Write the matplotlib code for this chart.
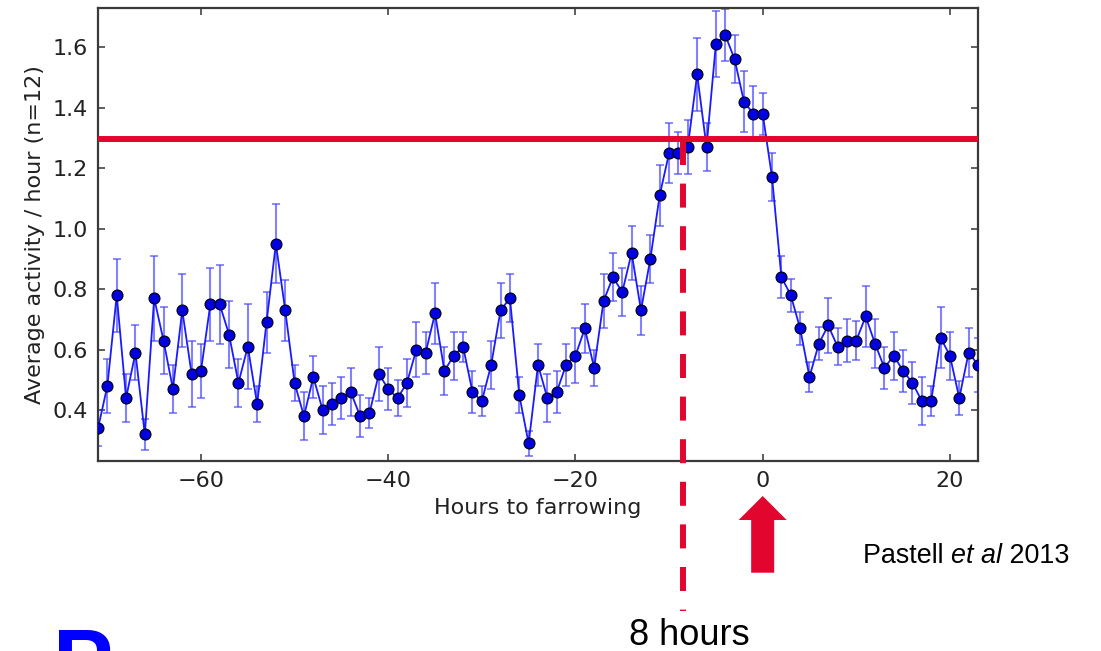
import matplotlib
matplotlib.use("Agg")
import matplotlib.pyplot as plt
from matplotlib.patches import Polygon, Rectangle
from matplotlib.lines import Line2D

# ---------------- data ----------------
hours = list(range(-71, 24))
activity = [0.34, 0.48, 0.78, 0.44, 0.59, 0.32, 0.77, 0.63, 0.47, 0.73,
            0.52, 0.53, 0.75, 0.75, 0.65, 0.49, 0.61, 0.42, 0.69, 0.95,
            0.73, 0.49, 0.38, 0.51, 0.40, 0.42, 0.44, 0.46, 0.38, 0.39,
            0.52, 0.47, 0.44, 0.49, 0.60, 0.59, 0.72, 0.53, 0.58, 0.61,
            0.46, 0.43, 0.55, 0.73, 0.77, 0.45, 0.29, 0.55, 0.44, 0.46,
            0.55, 0.58, 0.67, 0.54, 0.76, 0.84, 0.79, 0.92, 0.73, 0.90,
            1.11, 1.25, 1.25, 1.27, 1.51, 1.27, 1.61, 1.64, 1.56, 1.42,
            1.38, 1.38, 1.17, 0.84, 0.78, 0.67, 0.51, 0.62, 0.68, 0.61,
            0.63, 0.63, 0.71, 0.62, 0.54, 0.58, 0.53, 0.49, 0.43, 0.43,
            0.64, 0.58, 0.44, 0.59, 0.55]
error = [0.06, 0.09, 0.12, 0.08, 0.09, 0.05, 0.14, 0.11, 0.08, 0.12,
         0.11, 0.09, 0.12, 0.13, 0.11, 0.08, 0.14, 0.06, 0.10, 0.13,
         0.10, 0.06, 0.08, 0.07, 0.08, 0.07, 0.07, 0.08, 0.07, 0.05,
         0.09, 0.07, 0.06, 0.08, 0.09, 0.07, 0.10, 0.08, 0.08, 0.05,
         0.07, 0.05, 0.08, 0.09, 0.08, 0.06, 0.04, 0.07, 0.08, 0.07,
         0.07, 0.09, 0.08, 0.06, 0.09, 0.08, 0.08, 0.09, 0.08, 0.08,
         0.10, 0.10, 0.07, 0.09, 0.12, 0.08, 0.11, 0.085, 0.08, 0.10,
         0.09, 0.07, 0.08, 0.07, 0.055, 0.055, 0.05, 0.055, 0.09, 0.06,
         0.07, 0.065, 0.10, 0.08, 0.07, 0.08, 0.07, 0.07, 0.08, 0.05,
         0.10, 0.08, 0.055, 0.08, 0.09]
threshold = 1.296
onset_hour = -8.5
xticks = [-60, -40, -20, 0, 20]
yticks = [0.4, 0.6, 0.8, 1.0, 1.2, 1.4, 1.6]
xlabel = "Hours to farrowing"
ylabel = "Average activity / hour (n=12)"
onset_label = "8 hours"

RED = "#E2062F"
W, H = 1101, 651

fig = plt.figure(figsize=(W / 100, H / 100), dpi=100)
fig.patch.set_facecolor("white")
ax = fig.add_axes([98 / W, 1 - 461 / H, 880 / W, 453.5 / H])

ax.errorbar(hours, activity, yerr=error, fmt="none",
            ecolor=(0.25, 0.25, 1.0, 0.65), elinewidth=1.5,
            capsize=2.7, capthick=1.3, zorder=2)
ax.plot(hours, activity, "-", color="#1a1aff", lw=1.3, zorder=3)
ax.plot(hours, activity, "o", ms=7.8, mfc="#0000e0", mec="#00001a",
        mew=0.9, zorder=4, clip_on=True)

ax.set_xlim(-71, 23)
ax.set_ylim(0.232, 1.731)
ax.set_xticks(xticks)
ax.set_xticklabels(["\u2212" + str(abs(t)) if t < 0 else str(t) for t in xticks])
ax.set_yticks(yticks)
ax.set_yticklabels([f"{t:.1f}" for t in yticks])
ax.tick_params(direction="in", length=5, width=1.1, color="#333333",
               labelsize=16, labelcolor="#222222", top=True, right=True, pad=7)
for s in ax.spines.values():
    s.set_color("#3a3a3a")
    s.set_linewidth(1.6)
ax.set_xlabel(xlabel, fontsize=16, color="#222222", labelpad=5.5)
ax.set_ylabel(ylabel, fontsize=16, color="#222222", labelpad=6)

# threshold line
ax.axhline(threshold, xmin=0, xmax=0.997, color=RED, lw=4.3, zorder=6)

# white cut under the x label (the original screenshot is cropped there)
fig.add_artist(Rectangle((0, 0), 1, 1 - 519 / H, transform=fig.transFigure,
                         facecolor="white", edgecolor="none", zorder=1))

# dashed vertical line at onset, from the threshold line down past the axes
fig.canvas.draw()
x_px, y_top = ax.transData.transform((onset_hour, threshold))
dash = Line2D([x_px / W, x_px / W], [1 - 141.4 / H, 1 - 611 / H],
              transform=fig.transFigure, color=RED, lw=4.3,
              linestyle=(0, (24 * 0.72 / 4.3, 18.6 * 0.72 / 4.3)),
              solid_capstyle="butt", dash_capstyle="butt", zorder=5)
fig.add_artist(dash)

# red arrow pointing at hour 0
cx = ax.transData.transform((0, 0))[0]
arrow_px = [(cx - 11.5, 572.7), (cx + 11.5, 572.7), (cx + 11.5, 520),
            (cx + 24, 520), (cx, 496), (cx - 24, 520), (cx - 11.5, 520)]
fig.add_artist(Polygon([(x / W, 1 - y / H) for x, y in arrow_px],
                       closed=True, transform=fig.transFigure,
                       facecolor=RED, edgecolor="none", zorder=5))

# onset label
fig.text(689 / W, 1 - 645 / H, onset_label, fontsize=26,
         family="Liberation Sans", ha="center", va="baseline", color="black",
         zorder=6)

# citation with italic "et al"
renderer = fig.canvas.get_renderer()
xpos = 862.7
parts = [("Pastell ", "normal"), ("et al", "italic"), (" 2013", "normal")]
for txt, style in parts:
    t = fig.text(xpos / W, 1 - 563.3 / H, txt, fontsize=19.4,
                 family="Liberation Sans", style=style, ha="left",
                 va="baseline", color="black", zorder=6)
    bb = t.get_window_extent(renderer=renderer)
    xpos += bb.width

# cropped big blue letter at bottom left (cut by the slide edge, as in the source)
fig.text(53 / W, 1 - 693 / H, "P", fontsize=65, family="Liberation Sans",
         weight="bold", color="#0000ff", ha="left", va="baseline", zorder=6)

fig.savefig("out.png", dpi=100, facecolor="white")
